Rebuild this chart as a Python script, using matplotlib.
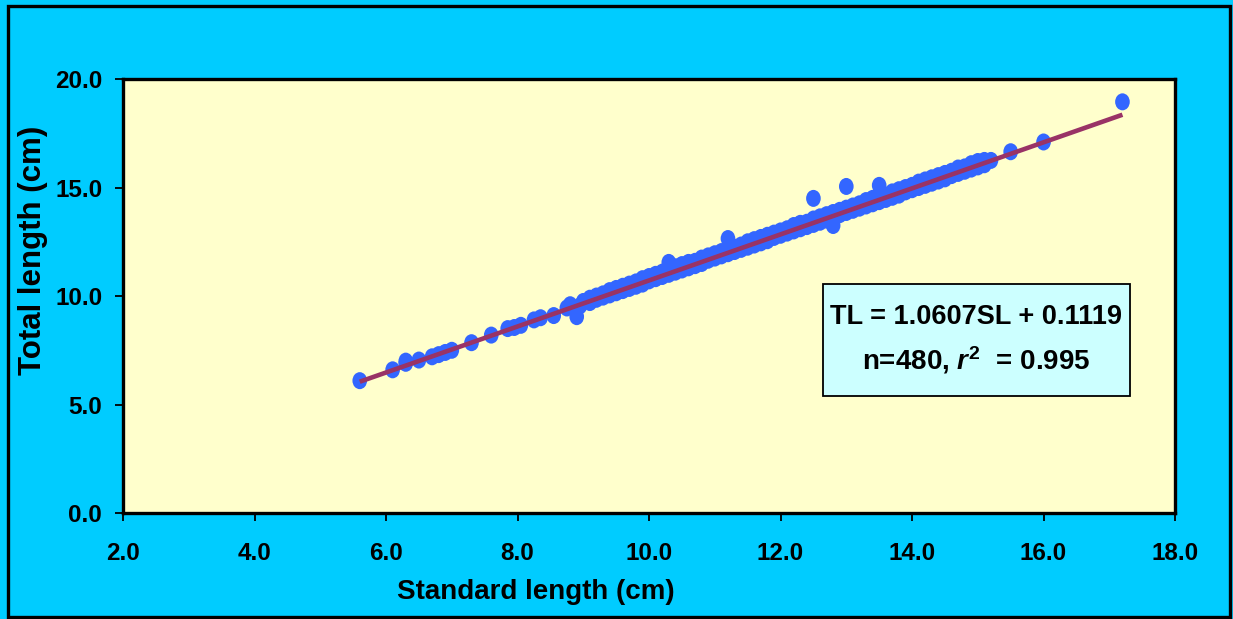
import matplotlib
matplotlib.use("Agg")
import matplotlib.pyplot as plt
from matplotlib.patches import Rectangle
from matplotlib.path import Path
from matplotlib.markers import MarkerStyle
from matplotlib.transforms import Affine2D

plt.rcParams['font.family'] = ['Liberation Sans', 'DejaVu Sans']
plt.rcParams['font.weight'] = 'bold'
plt.rcParams['mathtext.fontset'] = 'custom'
plt.rcParams['mathtext.it'] = 'Liberation Sans:italic:bold'
plt.rcParams['mathtext.rm'] = 'Liberation Sans:bold'
plt.rcParams['mathtext.bf'] = 'Liberation Sans:bold'

# ---- data ----
standard_length = [
    5.6, 6.1, 6.3, 6.3, 6.5, 6.7, 6.8, 6.9, 7.0, 7.3, 7.6, 7.85, 7.95, 8.05,
    8.25, 8.35, 8.55, 8.75, 8.8, 8.9, 8.95, 9.0,
    9.1, 9.1, 9.2, 9.2, 9.3, 9.3, 9.4, 9.4, 9.5, 9.5, 9.6, 9.6, 9.7, 9.7,
    9.8, 9.8, 9.9, 9.9, 10.0, 10.0, 10.1, 10.1, 10.2, 10.2, 10.3, 10.3, 10.3,
    10.4, 10.4, 10.5, 10.5, 10.6, 10.6, 10.7, 10.7, 10.8, 10.8, 10.9, 10.9,
    11.0, 11.0, 11.1, 11.1, 11.2, 11.2, 11.2, 11.3, 11.3, 11.4, 11.4,
    11.5, 11.5, 11.6, 11.6, 11.7, 11.7, 11.8, 11.8, 11.9, 11.9, 12.0, 12.0,
    12.1, 12.1, 12.2, 12.2, 12.3, 12.3, 12.4, 12.4, 12.5, 12.5, 12.5,
    12.6, 12.6, 12.7, 12.7, 12.8, 12.8, 12.8, 12.9, 12.9, 13.0, 13.0, 13.0,
    13.1, 13.1, 13.2, 13.2, 13.3, 13.3, 13.4, 13.4, 13.5, 13.5, 13.5,
    13.6, 13.6, 13.7, 13.7, 13.8, 13.8, 13.9, 13.9, 14.0, 14.0, 14.1, 14.1,
    14.2, 14.2, 14.3, 14.3, 14.4, 14.4, 14.5, 14.5, 14.6, 14.6, 14.7, 14.7,
    14.8, 14.8, 14.9, 14.9, 15.0, 15.0, 15.1, 15.1, 15.2,
    15.5, 16.0, 17.2,
]
total_length = [
    6.1, 6.6, 6.9, 7.0, 7.05, 7.2, 7.3, 7.4, 7.5, 7.85, 8.2, 8.5, 8.55, 8.65,
    8.9, 9.0, 9.1, 9.45, 9.6, 9.05, 9.55, 9.75,
    9.9, 9.7, 10.0, 9.85, 10.1, 9.95, 10.25, 10.05, 10.35, 10.15, 10.45, 10.25, 10.55, 10.35,
    10.65, 10.45, 10.8, 10.55, 10.9, 10.7, 11.0, 10.8, 11.1, 10.9, 11.2, 11.55, 11.0,
    11.35, 11.1, 11.45, 11.2, 11.55, 11.3, 11.6, 11.4, 11.75, 11.5, 11.85, 11.65,
    11.95, 11.75, 12.05, 11.85, 12.15, 12.65, 11.95, 12.25, 12.05, 12.35, 12.15,
    12.5, 12.25, 12.6, 12.35, 12.7, 12.45, 12.8, 12.55, 12.9, 12.7, 13.0, 12.8,
    13.1, 12.9, 13.25, 13.0, 13.35, 13.1, 13.4, 13.2, 13.55, 14.5, 13.3,
    13.65, 13.4, 13.75, 13.5, 13.85, 13.25, 13.6, 13.95, 13.75, 14.05, 15.05, 13.85,
    14.15, 13.95, 14.25, 14.05, 14.4, 14.15, 14.5, 14.25, 14.6, 15.1, 14.35,
    14.65, 14.45, 14.8, 14.55, 14.9, 14.65, 15.0, 14.8, 15.1, 14.9, 15.25, 15.0,
    15.35, 15.1, 15.45, 15.2, 15.55, 15.3, 15.65, 15.4, 15.75, 15.55, 15.9, 15.65,
    15.95, 15.75, 16.1, 15.85, 16.2, 15.95, 16.25, 16.05, 16.25,
    16.65, 17.1, 18.95,
]
fit_slope = 1.0607
fit_intercept = 0.1119
x_ticks = [2.0, 4.0, 6.0, 8.0, 10.0, 12.0, 14.0, 16.0, 18.0]
y_ticks = [0.0, 5.0, 10.0, 15.0, 20.0]
eq_line1 = "TL = 1.0607SL + 0.1119"
eq_line2 = r"n=480, $r^2$  = 0.995"

# ---- figure ----
fig = plt.figure(figsize=(12.33, 6.19), dpi=100, facecolor='#00CCFF')
ax = fig.add_axes([0.0998, 0.1712, 0.8532, 0.7011])
ax.set_facecolor('#FFFFCC')

ellipse = Path.unit_circle().transformed(Affine2D().scale(0.86, 1.0))
ax.scatter(standard_length, total_length, marker=MarkerStyle(ellipse), s=150,
           color='#3366FF', edgecolors='none', zorder=3)

x0, x1 = min(standard_length), max(standard_length)
ax.plot([x0, x1], [fit_slope * x0 + fit_intercept, fit_slope * x1 + fit_intercept],
        color='#993366', lw=3.3, solid_capstyle='butt', zorder=4)

ax.set_xlim(2, 18)
ax.set_ylim(0, 20)
ax.set_xticks(x_ticks)
ax.set_yticks(y_ticks)
ax.set_xticklabels([f"{v:.1f}" for v in x_ticks])
ax.set_yticklabels([f"{v:.1f}" for v in y_ticks])
ax.tick_params(axis='both', direction='out', length=6, width=1.3, color='black',
               labelsize=17.5, labelcolor='black')
ax.tick_params(axis='x', pad=15)
ax.tick_params(axis='y', pad=9)
for lab in ax.get_xticklabels() + ax.get_yticklabels():
    lab.set_fontweight('bold')
for sp in ax.spines.values():
    sp.set_linewidth(2.4)
    sp.set_color('black')

ax.set_xlabel("Standard length (cm)", fontsize=20, fontweight='bold')
ax.set_ylabel("Total length (cm)", fontsize=22.5, fontweight='bold')
ax.xaxis.set_label_coords(0.3926, -0.153)
ax.yaxis.set_label_coords(-0.0713, 0.606)

# equation box
ax.add_patch(Rectangle((0.6654, 0.2696), 0.2918, 0.258, transform=ax.transAxes,
                       facecolor='#CCFFFF', edgecolor='black', lw=1.3, zorder=5))
ax.text(0.8108, 0.4516, eq_line1, transform=ax.transAxes, ha='center', va='center',
        fontsize=19.5, fontweight='bold', zorder=6)
ax.text(0.8108, 0.352, eq_line2, transform=ax.transAxes, ha='center', va='center',
        fontsize=20, fontweight='bold', zorder=6)

# outer frame
fig.patches.append(Rectangle((8 / 1233, 2 / 619), 1222 / 1233, 611 / 619,
                             transform=fig.transFigure, fill=False,
                             edgecolor='black', lw=2.4, zorder=10))

fig.savefig("out.png", dpi=100, facecolor=fig.get_facecolor())
